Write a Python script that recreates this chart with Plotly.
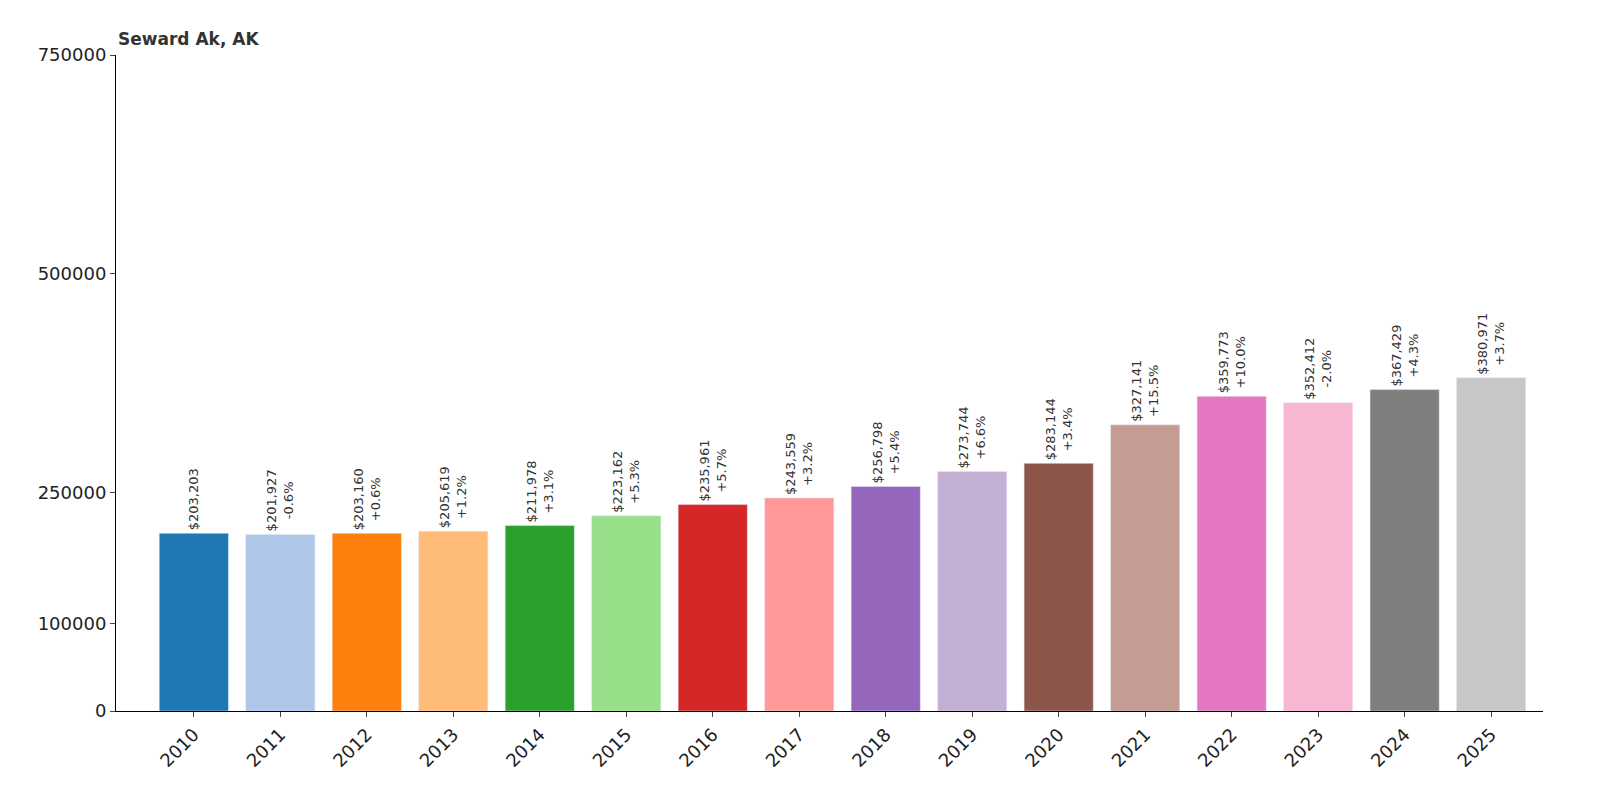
import plotly.graph_objects as go

years = [str(y) for y in range(2010, 2026)]
values = [203203, 201927, 203160, 205619, 211978, 223162, 235961, 243559, 256798, 273744,
          283144, 327141, 359773, 352412, 367429, 380971]
changes = ["", "-0.6%", "+0.6%", "+1.2%", "+3.1%", "+5.3%", "+5.7%", "+3.2%", "+5.4%", "+6.6%",
           "+3.4%", "+15.5%", "+10.0%", "-2.0%", "+4.3%", "+3.7%"]
colors = ["#1f77b4", "#aec7e8", "#ff7f0e", "#ffbb78", "#2ca02c", "#98df8a", "#d62728", "#ff9896",
          "#9467bd", "#c5b0d5", "#8c564b", "#c49c94", "#e377c2", "#f7b6d2", "#7f7f7f", "#c7c7c7"]
yticks = [0, 100000, 250000, 500000, 750000]

labels = [f"${v:,}" + (f"<br>{c}" if c else "") for v, c in zip(values, changes)]

fig = go.Figure(go.Bar(
    x=years, y=values, marker_color=colors, width=0.8,
    text=labels, textposition="outside", textangle=-90, constraintext="none",
    textfont=dict(size=13, color="#333333", family="DejaVu Sans"), cliponaxis=False,
))
fig.update_layout(
    width=1600, height=800, plot_bgcolor="white", paper_bgcolor="white",
    margin=dict(l=108, r=65, t=47, b=97), showlegend=False,
    font=dict(family="DejaVu Sans", color="#222222"),
    annotations=[dict(text="<b>Seward Ak, AK</b>", x=0, xref="paper", y=1.0, yref="paper",
                      xanchor="left", yanchor="bottom", showarrow=False,
                      font=dict(size=17, color="#333333"), yshift=4)],
)
fig.update_xaxes(showline=True, linecolor="black", tickangle=-45, ticks="outside",
                 tickfont=dict(size=18), range=[-0.9, 15.6])
fig.update_yaxes(range=[0, 750000], tickvals=yticks, ticktext=[str(t) for t in yticks],
                 showline=True, linecolor="black", ticks="outside", showgrid=False,
                 zeroline=False, tickfont=dict(size=18))
fig.write_html("out.html")
